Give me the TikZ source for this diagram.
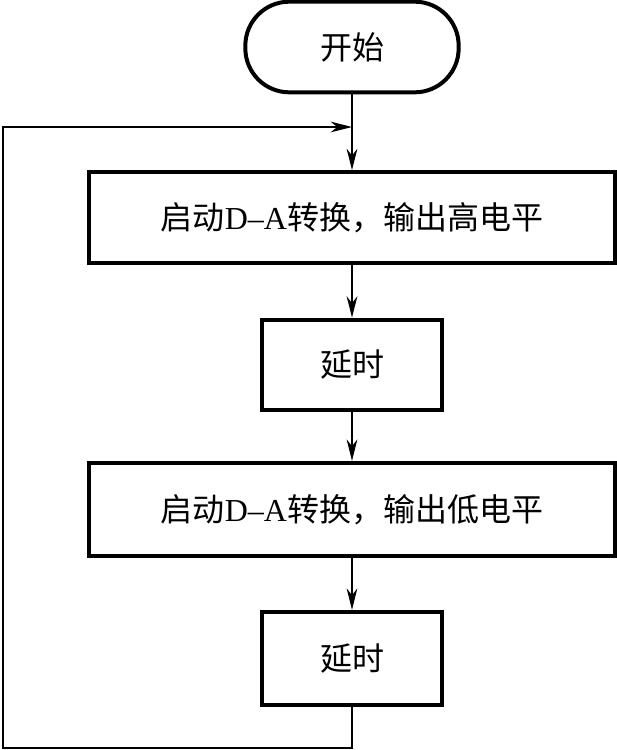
\documentclass[tikz,border=0pt]{standalone}
\usepackage{fontspec}
\setmainfont{Liberation Serif}
\newfontfamily\cjk{Noto Sans CJK SC}
\usepackage{tikz}
\usetikzlibrary{arrows.meta}

\begin{document}
\begin{tikzpicture}[x=0.75pt,y=-0.75pt,
		box/.style={draw, line width=3pt, minimum height=68pt, font=\fontsize{24}{28}\selectfont},
		link/.style={line width=1.5pt, -{Stealth[length=16pt,width=8pt,inset=5pt]}}]
			\useasboundingbox (0,0) rectangle (617,750);
			\def\midx{352}
			
			\node[box, rounded corners=33pt, minimum width=160pt] (start) at (\midx,47) {\cjk 开始};
			\node[box, minimum width=395pt] (highout) at (\midx,217.5) {{\cjk 启动}D–A{\cjk 转换，输出高电平}};
			\node[box, minimum width=135pt] (delayA) at (\midx,365) {\cjk 延时};
			\node[box, minimum width=395pt, minimum height=70pt] (lowout) at (\midx,509.5) {{\cjk 启动}D–A{\cjk 转换，输出低电平}};
			\node[box, minimum width=135pt, minimum height=70pt] (delayB) at (\midx,658.5) {\cjk 延时};
			
			\coordinate (merge) at (\midx,127);
			\coordinate (bottomleft) at (3,748);
			
			\draw[link] (start) -- (highout);
			\draw[link] (highout) -- (delayA);
			\draw[link] (delayA) -- (lowout);
			\draw[link] (lowout) -- (delayB);
			\draw[link] (delayB.south) |- (bottomleft) |- (merge);
		\end{tikzpicture}
\end{document}
